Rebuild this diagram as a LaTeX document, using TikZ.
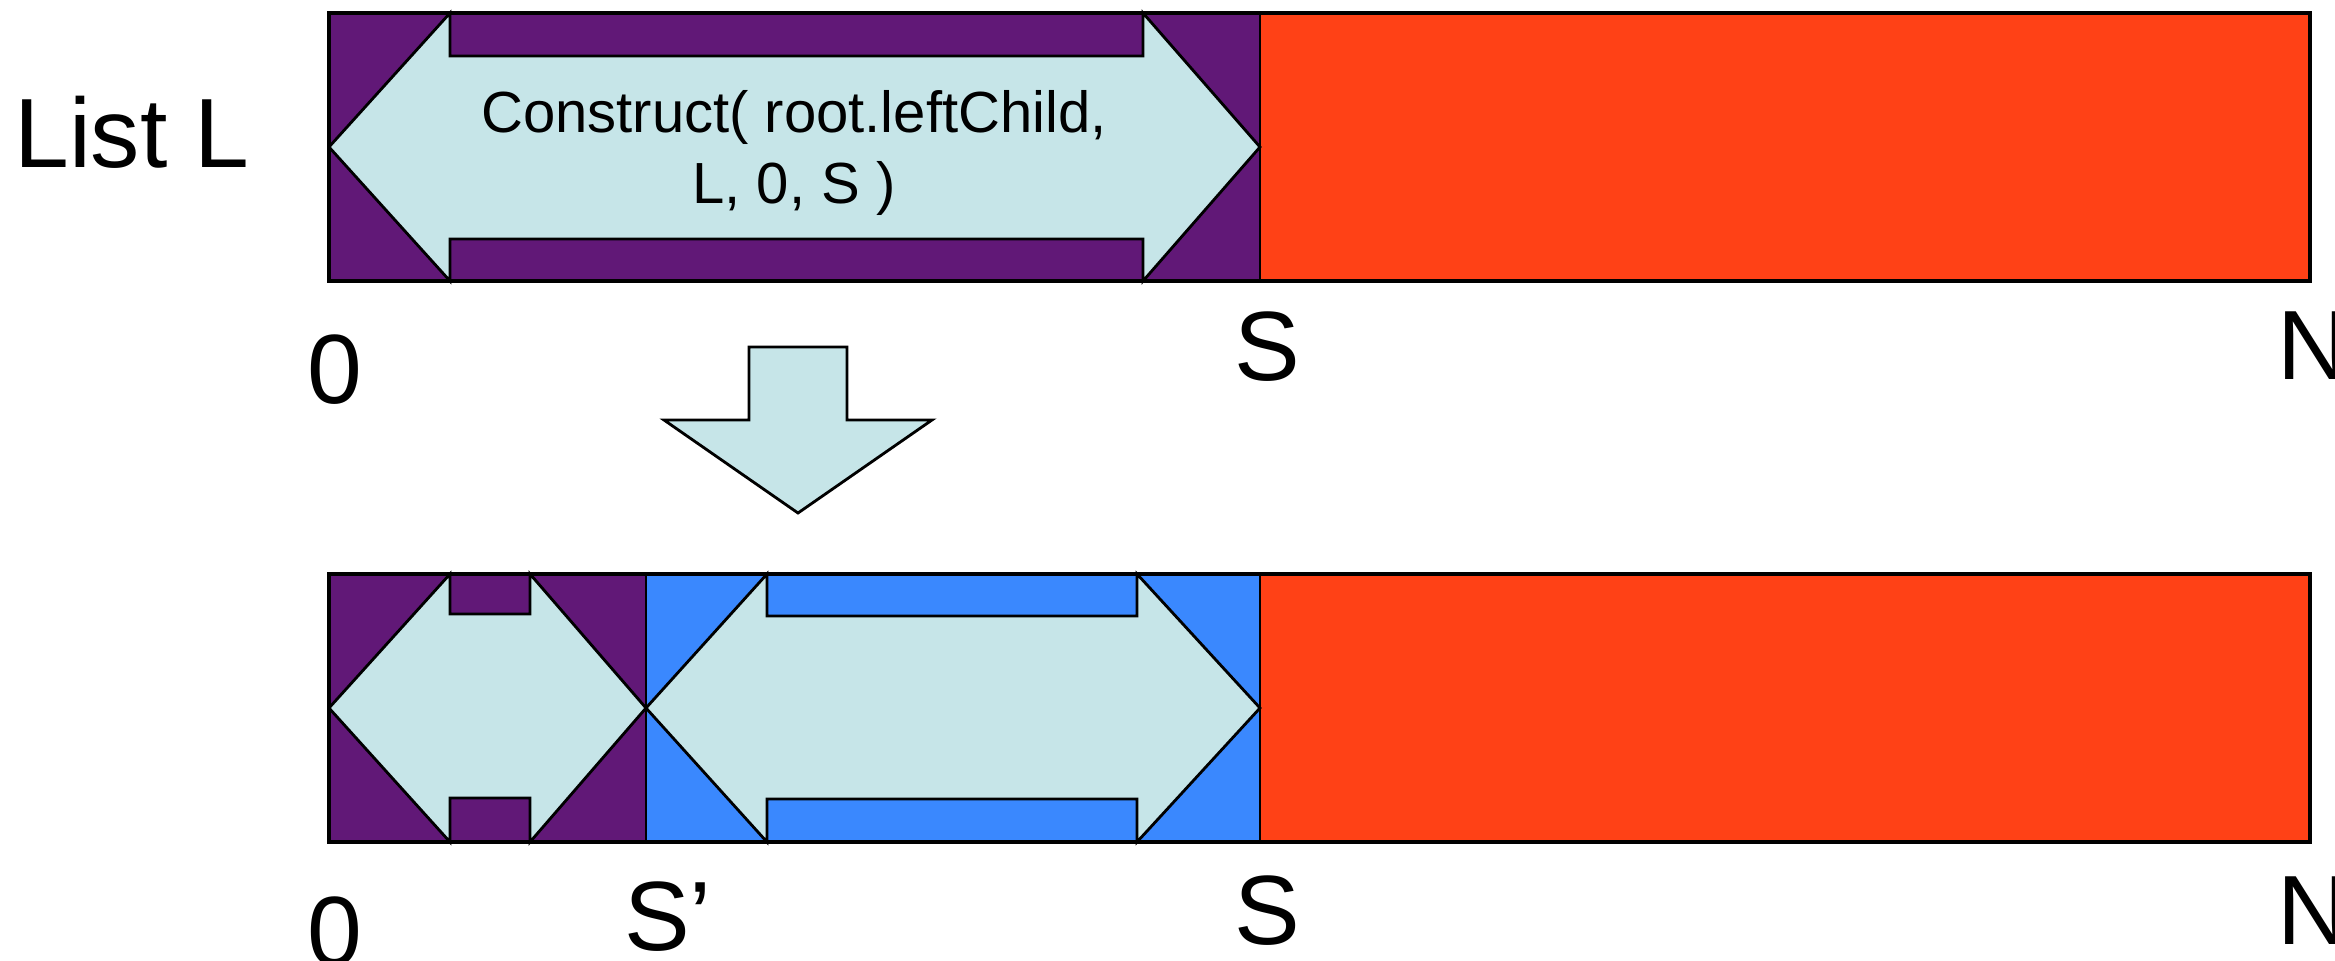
\documentclass[tikz,border=0pt]{standalone}
\usepackage{fontspec}
\setmainfont{Liberation Sans}
\usetikzlibrary{positioning}

\definecolor{listpurple}{RGB}{97,24,119}
\definecolor{listorange}{RGB}{255,65,22}
\definecolor{listblue}{RGB}{58,136,254}
\definecolor{arrowcyan}{RGB}{198,229,232}

\begin{document}
\begin{tikzpicture}[
    x=0.01cm, y=-0.01cm,
    part/.style={draw=black, line width=0.6pt},
    barline/.style={draw=black, line width=1.1pt},
    blockarrow/.style={draw=black, fill=arrowcyan, line width=0.8pt, line join=miter},
    lbl/.style={inner sep=0pt, font=\fontsize{28}{34}\selectfont},
    call/.style={inner sep=0pt, align=center, font=\fontsize{16.5}{20}\selectfont}
]
\useasboundingbox (0,0) rectangle (2335,960);

% List L, before the call
\node[lbl] (lst) at (132,132) {List L};
\fill[listpurple] (329,13) rectangle (1260,281);
\fill[listorange] (1260,13) rectangle (2310,281);
\draw[part] (1260,13) -- (1260,281);
\draw[blockarrow] (329,147) -- (450,13) -- (450,56) -- (1143,56) -- (1143,13)
  -- (1260,147) -- (1143,281) -- (1143,239) -- (450,239) -- (450,281) -- cycle;
\draw[barline] (329,13) rectangle (2310,281);
\node[call] (cons) at (794,153) {Construct( root.leftChild,\\L, 0, S )};

% Positions
\node[lbl] (zeroa) at (335,370) {0};
\node[lbl] (sa) at (1267,347) {S};
\node[lbl] (na) at (2313,346) {N};

% Step down
\draw[blockarrow] (749,347) -- (847,347) -- (847,420) -- (932,420)
  -- (798,513) -- (664,420) -- (749,420) -- cycle;

% List L, after the call
\fill[listpurple] (329,574) rectangle (646,842);
\fill[listblue] (646,574) rectangle (1260,842);
\fill[listorange] (1260,574) rectangle (2310,842);
\draw[part] (646,574) -- (646,842);
\draw[part] (1260,574) -- (1260,842);
\draw[blockarrow] (329,708) -- (450,574) -- (450,614) -- (530,614) -- (530,574)
  -- (646,708) -- (530,842) -- (530,798) -- (450,798) -- (450,842) -- cycle;
\draw[blockarrow] (646,708) -- (767,574) -- (767,616) -- (1137,616) -- (1137,574)
  -- (1260,708) -- (1137,842) -- (1137,799) -- (767,799) -- (767,842) -- cycle;
\draw[barline] (329,574) rectangle (2310,842);

% Positions
\node[lbl] (zerob) at (335,932) {0};
\node[lbl] (sprime) at (668,917) {S’};
\node[lbl] (sb) at (1267,911) {S};
\node[lbl] (nb) at (2313,911) {N};

\end{tikzpicture}
\end{document}
